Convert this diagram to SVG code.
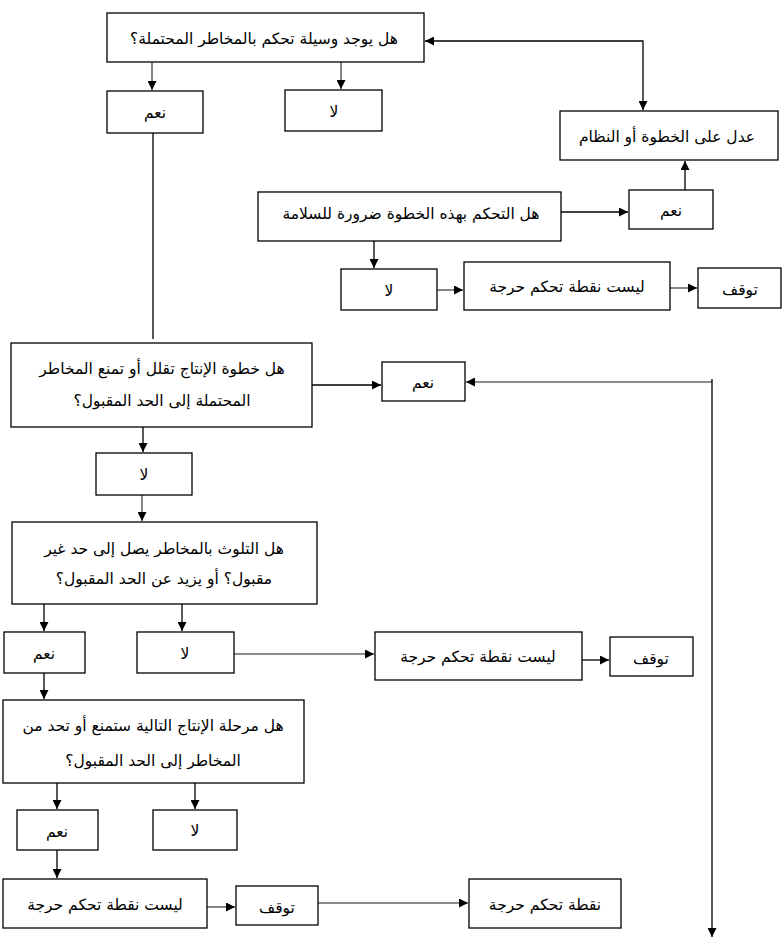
<svg xmlns="http://www.w3.org/2000/svg" width="784" height="948" viewBox="0 0 784 948">
<style>
rect{fill:#fff;stroke:#000;stroke-width:1.3}
text{font-family:"DejaVu Sans","Noto Sans",sans-serif;font-size:15.5px;text-anchor:middle;fill:#000}
.c{fill:none;stroke:#000;stroke-width:1.3}
.g{stroke:#666;stroke-width:1.6}
</style>
<defs>
<marker id="ah" viewBox="0 0 10 10" refX="10" refY="5" markerWidth="9" markerHeight="9" orient="auto-start-reverse" markerUnits="userSpaceOnUse"><path d="M0,0 L10,5 L0,10 z" fill="#000"/></marker>
</defs>
<rect width="784" height="948" style="fill:#fff;stroke:none"/>
<g id="connectors">
<path class="c g" d="M152,62 V90" marker-end="url(#ah)"/>
<path class="c g" d="M341,62 V89" marker-end="url(#ah)"/>
<path class="c" d="M425,41 H643 V110" marker-start="url(#ah)" marker-end="url(#ah)"/>
<path class="c" d="M685,190 V161" marker-end="url(#ah)"/>
<path class="c" d="M561,212 H628" marker-end="url(#ah)"/>
<path class="c" d="M374,241 V268" marker-end="url(#ah)"/>
<path class="c g" d="M437,290 H463" marker-end="url(#ah)"/>
<path class="c g" d="M670,288 H697" marker-end="url(#ah)"/>
<path class="c" d="M153,133 V339"/>
<path class="c" d="M312,385 H381" marker-end="url(#ah)"/>
<path class="c g" d="M712,382 H466" marker-end="url(#ah)"/>
<path class="c" d="M712,379 V937" marker-end="url(#ah)"/>
<path class="c" d="M143,427 V452" marker-end="url(#ah)"/>
<path class="c g" d="M142,495 V521" marker-end="url(#ah)"/>
<path class="c" d="M44,604 V631" marker-end="url(#ah)"/>
<path class="c" d="M182,604 V631" marker-end="url(#ah)"/>
<path class="c g" d="M234,654 H374" marker-end="url(#ah)"/>
<path class="c" d="M582,660 H609" marker-end="url(#ah)"/>
<path class="c" d="M44,673 V699" marker-end="url(#ah)"/>
<path class="c" d="M57,783 V809" marker-end="url(#ah)"/>
<path class="c" d="M195,783 V809" marker-end="url(#ah)"/>
<path class="c" d="M57,850 V878" marker-end="url(#ah)"/>
<path class="c g" d="M207,907 H235" marker-end="url(#ah)"/>
<path class="c g" d="M318,903 H468" marker-end="url(#ah)"/>
</g>
<g id="n1"><rect x="107" y="13" width="317" height="49"/><text x="264" y="44">هل يوجد وسيلة تحكم بالمخاطر المحتملة؟</text></g>
<g id="n2"><rect x="107" y="91" width="96" height="42"/><text x="155" y="118">نعم</text></g>
<g id="n3"><rect x="285" y="90" width="97" height="41"/><text x="334" y="117">لا</text></g>
<g id="n4"><rect x="560" y="111" width="218" height="49"/><text x="667" y="142">عدل على الخطوة أو النظام</text></g>
<g id="n5"><rect x="629" y="190" width="84" height="39"/><text x="671" y="216">نعم</text></g>
<g id="n6"><rect x="258" y="192" width="303" height="49"/><text x="411" y="219">هل التحكم بهذه الخطوة ضرورة للسلامة</text></g>
<g id="n7"><rect x="341" y="269" width="96" height="41"/><text x="389" y="296">لا</text></g>
<g id="n8"><rect x="464" y="262" width="206" height="48"/><text x="567" y="292">ليست نقطة تحكم حرجة</text></g>
<g id="n9"><rect x="698" y="268" width="83" height="40"/><text x="740" y="295">توقف</text></g>
<g id="n10"><rect x="11" y="343" width="301" height="84"/><text x="162" y="374">هل خطوة الإنتاج تقلل أو تمنع المخاطر</text><text x="162" y="406">المحتملة إلى الحد المقبول؟</text></g>
<g id="n11"><rect x="382" y="362" width="83" height="39"/><text x="423" y="388">نعم</text></g>
<g id="n12"><rect x="96" y="453" width="96" height="42"/><text x="144" y="480">لا</text></g>
<g id="n13"><rect x="12" y="522" width="305" height="82"/><text x="164" y="554">هل التلوث بالمخاطر يصل إلى حد غير</text><text x="164" y="584">مقبول؟ أو يزيد عن الحد المقبول؟</text></g>
<g id="n14"><rect x="4" y="632" width="81" height="41"/><text x="44" y="659">نعم</text></g>
<g id="n15"><rect x="137" y="632" width="97" height="41"/><text x="185" y="659">لا</text></g>
<g id="n16"><rect x="375" y="632" width="207" height="48"/><text x="478" y="662">ليست نقطة تحكم حرجة</text></g>
<g id="n17"><rect x="610" y="637" width="83" height="39"/><text x="651" y="664">توقف</text></g>
<g id="n18"><rect x="3" y="700" width="301" height="83"/><text x="153" y="731">هل مرحلة الإنتاج التالية ستمنع أو تحد من</text><text x="153" y="766">المخاطر إلى الحد المقبول؟</text></g>
<g id="n19"><rect x="17" y="810" width="81" height="40"/><text x="57" y="837">نعم</text></g>
<g id="n20"><rect x="153" y="810" width="84" height="40"/><text x="195" y="836">لا</text></g>
<g id="n21"><rect x="3" y="879" width="204" height="49"/><text x="105" y="910">ليست نقطة تحكم حرجة</text></g>
<g id="n22"><rect x="236" y="886" width="82" height="39"/><text x="277" y="913">توقف</text></g>
<g id="n23"><rect x="469" y="879" width="152" height="49"/><text x="545" y="910">نقطة تحكم حرجة</text></g>
</svg>
